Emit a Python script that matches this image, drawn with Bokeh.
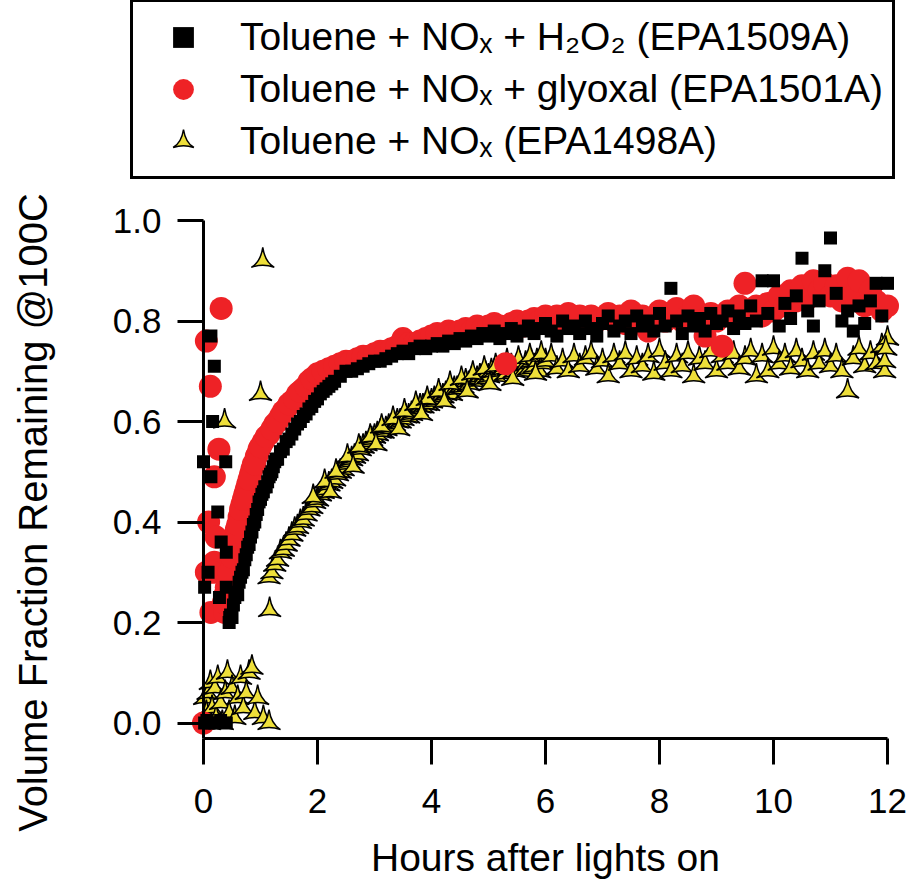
from math import pi
from bokeh.plotting import figure
from bokeh.models import Range1d, FixedTicker, PrintfTickFormatter, Legend, LegendItem, Label
from bokeh.embed import file_html
from bokeh.resources import INLINE

# ---------------- data ----------------
# Toluene + NOx + H2O2 (EPA1509A)  -- black squares
h2o2_x = [0.00, 0.02, 0.08, 0.13, 0.19, 0.16, 0.39, 0.13, 0.25, 0.31, 0.40, 0.28, 0.40, 0.46,
          0.02, 0.10, 0.20, 0.30, 0.40, 0.06,
          0.45, 0.475, 0.525, 0.55, 0.575, 0.625, 0.65, 0.675, 0.725, 0.75, 0.775, 0.825, 0.85,
          0.875, 0.925, 0.95, 0.975, 1.025, 1.05, 1.075, 1.125, 1.15, 1.175, 1.225, 1.25, 1.275,
          1.35, 1.45, 1.55, 1.65, 1.75, 1.85, 1.95, 2.05, 2.15, 2.25,
          0.5, 0.6, 0.7, 0.8, 0.9, 1.0, 1.1, 1.2, 1.3, 1.4, 1.5, 1.6, 1.7, 1.8, 1.9,
          2.0, 2.1, 2.2, 2.3, 2.4, 2.5, 2.6, 2.7, 2.8, 2.9, 3.0, 3.1, 3.2, 3.3, 3.4,
          3.5, 3.6, 3.7, 3.8, 3.9, 4.0, 4.1, 4.2, 4.3, 4.4, 4.5, 4.6, 4.7, 4.8, 4.9,
          5.0, 5.1, 5.2, 5.3, 5.4, 5.5, 5.6, 5.7, 5.8, 5.9, 6.0, 6.1, 6.2, 6.3, 6.4,
          6.5, 6.6, 6.7, 6.8, 6.9, 7.0, 7.1, 7.2, 7.3, 7.4, 7.5, 7.6, 7.7, 7.8, 7.9,
          8.0, 8.1, 8.2, 8.3, 8.4, 8.5, 8.6, 8.7, 8.8, 8.9, 9.0, 9.1, 9.2, 9.3, 9.4,
          9.5, 9.6, 9.7, 9.8, 9.9, 10.0, 10.1, 10.2, 10.3, 10.4, 10.5, 10.6, 10.7, 10.8, 10.9,
          11.0, 11.1, 11.2, 11.3, 11.4, 11.5, 11.6, 11.7, 11.8, 11.9, 12.0]
h2o2_y = [0.52, 0.27, 0.30, 0.77, 0.71, 0.60, 0.52, 0.49, 0.42, 0.36, 0.34, 0.25, 0.27, 0.21,
          0.00, 0.00, 0.00, 0.005, 0.00, 0.005,
          0.20, 0.215, 0.235, 0.25, 0.26, 0.28, 0.29, 0.30, 0.325, 0.335, 0.35, 0.37, 0.38,
          0.395, 0.415, 0.425, 0.44, 0.455, 0.46, 0.47, 0.48, 0.49, 0.495, 0.51, 0.52, 0.525,
          0.54, 0.56, 0.575, 0.595, 0.61, 0.625, 0.64, 0.655, 0.665, 0.675,
          0.21, 0.255, 0.305, 0.355, 0.40, 0.445, 0.47, 0.50, 0.525, 0.545, 0.565, 0.585, 0.60, 0.615, 0.63,
          0.645, 0.66, 0.67, 0.68, 0.69, 0.70, 0.70, 0.705, 0.71, 0.715, 0.72, 0.72, 0.725, 0.73, 0.735,
          0.74, 0.735, 0.745, 0.75, 0.745, 0.75, 0.755, 0.75, 0.76, 0.755, 0.765, 0.76, 0.77, 0.765, 0.775,
          0.77, 0.78, 0.765, 0.775, 0.785, 0.77, 0.78, 0.79, 0.775, 0.785, 0.795, 0.78, 0.77, 0.80, 0.785,
          0.79, 0.775, 0.80, 0.785, 0.77, 0.795, 0.81, 0.78, 0.79, 0.80, 0.775, 0.81, 0.79, 0.80, 0.78,
          0.815, 0.79, 0.865, 0.80, 0.775, 0.81, 0.79, 0.805, 0.78, 0.815, 0.795, 0.80, 0.82, 0.785, 0.81,
          0.795, 0.83, 0.80, 0.88, 0.815, 0.88, 0.79, 0.835, 0.805, 0.85, 0.925, 0.82, 0.79, 0.84, 0.90,
          0.965, 0.855, 0.80, 0.82, 0.78, 0.83, 0.795, 0.84, 0.875, 0.81, 0.875]

# Toluene + NOx + glyoxal (EPA1501A)  -- red circles
glyoxal_x = [0.00, 0.05, 0.12, 0.31, 0.27, 0.19, 0.09, 0.22, 0.19, 0.13, 0.05, 0.37, 0.16,
             0.375, 0.425, 0.475, 0.525, 0.575, 0.625, 0.675, 0.725, 0.75, 0.775, 0.825, 0.85,
             0.875, 0.925, 0.95, 0.975, 1.05, 1.15, 1.25, 1.35, 1.45, 1.55, 1.65, 1.75, 1.85,
             0.35, 0.4, 0.45, 0.5, 0.55, 0.6, 0.65, 0.7, 0.8, 0.9, 1.0, 1.1, 1.2, 1.3, 1.4,
             1.5, 1.6, 1.7, 1.8, 1.9, 2.0, 2.1, 2.2, 2.3, 2.4, 2.5, 2.6, 2.7, 2.8, 2.9,
             3.0, 3.1, 3.2, 3.3, 3.4, 3.5, 3.6, 3.7, 3.8, 3.9, 4.0, 4.1, 4.2, 4.3, 4.4,
             4.5, 4.6, 4.7, 4.8, 4.9, 5.0, 5.1, 5.2, 5.3, 5.4, 5.5, 5.6, 5.7, 5.8, 5.9,
             6.0, 6.1, 6.2, 6.3, 6.4, 6.5, 6.6, 6.7, 6.8, 6.9, 7.0, 7.1, 7.2, 7.3, 7.4,
             7.5, 7.6, 7.7, 7.8, 7.9, 8.0, 8.1, 8.2, 8.3, 8.4, 8.5, 8.6, 8.7, 8.8, 8.9,
             9.0, 9.1, 9.2, 9.3, 9.4, 9.5, 9.6, 9.7, 9.8, 9.9, 10.0, 10.1, 10.2, 10.3, 10.4,
             10.5, 10.6, 10.7, 10.8, 10.9, 11.0, 11.1, 11.2, 11.3, 11.4, 11.5, 11.6, 11.7, 11.8,
             11.9, 12.0]
glyoxal_y = [0.00, 0.76, 0.67, 0.825, 0.545, 0.49, 0.40, 0.37, 0.32, 0.22, 0.30, 0.22, 0.30,
             0.255, 0.285, 0.315, 0.345, 0.385, 0.41, 0.435, 0.455, 0.465, 0.475, 0.495, 0.505,
             0.515, 0.53, 0.535, 0.545, 0.56, 0.575, 0.595, 0.61, 0.625, 0.64, 0.655, 0.665, 0.68,
             0.24, 0.27, 0.30, 0.33, 0.365, 0.395, 0.425, 0.445, 0.485, 0.515, 0.55, 0.57, 0.585, 0.60, 0.62,
             0.635, 0.645, 0.66, 0.67, 0.685, 0.695, 0.70, 0.705, 0.71, 0.715, 0.72, 0.72, 0.725, 0.73, 0.73,
             0.735, 0.74, 0.74, 0.745, 0.75, 0.765, 0.755, 0.755, 0.76, 0.765, 0.77, 0.775, 0.77, 0.78, 0.775,
             0.78, 0.785, 0.78, 0.79, 0.785, 0.79, 0.795, 0.79, 0.715, 0.795, 0.80, 0.79, 0.80, 0.805, 0.80,
             0.81, 0.80, 0.81, 0.80, 0.815, 0.80, 0.81, 0.795, 0.81, 0.80, 0.805, 0.815, 0.80, 0.81, 0.795,
             0.82, 0.80, 0.81, 0.78, 0.80, 0.82, 0.80, 0.815, 0.825, 0.80, 0.81, 0.83, 0.80, 0.77, 0.815,
             0.80, 0.75, 0.82, 0.81, 0.83, 0.875, 0.82, 0.83, 0.81, 0.835, 0.82, 0.85, 0.83, 0.86, 0.84,
             0.87, 0.845, 0.88, 0.86, 0.875, 0.85, 0.87, 0.84, 0.885, 0.85, 0.88, 0.83, 0.86, 0.84,
             0.82, 0.83]

# Toluene + NOx (EPA1498A)  -- yellow triangles
nox_x = [0.02, 0.05, 0.08, 0.10, 0.12, 0.15, 0.20, 0.22, 0.25, 0.30, 0.33, 0.38, 0.42, 0.45,
         0.50, 0.55, 0.60, 0.65, 0.70, 0.75, 0.80, 0.85, 0.90, 0.95, 1.05, 1.15,
         1.04, 1.00, 0.37, 1.16,
         1.15, 1.20, 1.25, 1.30, 1.35, 1.40, 1.45, 1.50, 1.55, 1.60, 1.65, 1.70, 1.75, 1.80, 1.85,
         1.90, 1.95, 2.00, 2.05, 2.10, 2.15, 2.20, 2.25, 2.30, 2.35, 2.40, 2.45, 2.50, 2.55, 2.60,
         2.65, 2.70, 2.75, 2.80, 2.85, 2.90, 2.95, 3.00, 3.05, 3.10, 3.15, 3.20, 3.25, 3.30, 3.35,
         3.40, 3.45, 3.50, 3.55, 3.60, 3.65, 3.70, 3.75, 3.80, 3.85, 3.90, 3.95, 4.00, 4.05, 4.10,
         4.15, 4.20, 4.25, 4.30, 4.35, 4.40, 4.45, 4.50, 4.55, 4.60, 4.65, 4.70, 4.75, 4.80, 4.85,
         4.90, 4.95, 5.00, 5.05, 5.10, 5.15, 5.20, 5.25, 5.30, 5.35, 5.40, 5.45, 5.50, 5.55, 5.60,
         5.65, 5.70, 5.75, 5.80, 5.85, 5.90, 5.95, 6.00,
         1.925, 2.125, 2.325, 2.525, 2.725, 2.925, 3.125, 3.325, 3.525, 3.725, 3.925, 4.125, 4.325,
         4.525, 4.725, 4.925, 5.125, 5.325, 5.525, 5.725, 5.925, 2.225, 2.625, 3.025, 3.425, 3.825,
         4.225, 4.625, 5.025, 5.425, 5.825,
         6.1, 6.2, 6.3, 6.4, 6.5, 6.6, 6.7, 6.8, 6.9, 7.0, 7.1, 7.2, 7.3, 7.4, 7.5,
         7.6, 7.7, 7.8, 7.9, 8.0, 8.1, 8.2, 8.3, 8.4, 8.5, 8.6, 8.7, 8.8, 8.9, 9.0,
         9.1, 9.2, 9.3, 9.4, 9.5, 9.6, 9.7, 9.8, 9.9, 10.0, 10.1, 10.2, 10.3, 10.4, 10.5,
         10.6, 10.7, 10.8, 10.9, 11.0, 11.1, 11.2, 11.3, 11.4, 11.5, 11.6, 11.7, 11.8, 11.9, 12.0,
         11.95, 11.95, 11.97]
nox_y = [0.05, 0.02, 0.06, 0.00, 0.08, 0.03, 0.07, 0.01, 0.09, 0.04, 0.00, 0.06, 0.10, 0.02,
         0.07, 0.01, 0.05, 0.09, 0.03, 0.06, 0.10, 0.11, 0.02, 0.05, 0.01, 0.00,
         0.92, 0.655, 0.60, 0.225,
         0.29, 0.30, 0.315, 0.325, 0.34, 0.345, 0.355, 0.365, 0.375, 0.385, 0.39, 0.40, 0.405, 0.415, 0.425,
         0.43, 0.44, 0.445, 0.455, 0.46, 0.465, 0.475, 0.48, 0.485, 0.495, 0.50, 0.505, 0.515, 0.52, 0.525,
         0.53, 0.535, 0.545, 0.55, 0.555, 0.56, 0.565, 0.57, 0.575, 0.58, 0.58, 0.585, 0.59, 0.59, 0.595,
         0.60, 0.60, 0.605, 0.61, 0.61, 0.615, 0.62, 0.625, 0.63, 0.63, 0.635, 0.635, 0.64, 0.645, 0.645,
         0.65, 0.65, 0.655, 0.66, 0.655, 0.665, 0.665, 0.67, 0.67, 0.68, 0.675, 0.685, 0.68, 0.685, 0.69,
         0.685, 0.695, 0.69, 0.70, 0.70, 0.69, 0.70, 0.705, 0.695, 0.705, 0.71, 0.70, 0.71, 0.715, 0.70,
         0.715, 0.705, 0.72, 0.71, 0.72, 0.70, 0.715, 0.72,
         0.45, 0.48, 0.50, 0.53, 0.55, 0.57, 0.59, 0.605, 0.62, 0.635, 0.645, 0.66, 0.675,
         0.685, 0.695, 0.705, 0.71, 0.72, 0.725, 0.73, 0.735, 0.46, 0.51, 0.555, 0.585, 0.615,
         0.64, 0.66, 0.675, 0.685, 0.695,
         0.73, 0.705, 0.72, 0.70, 0.73, 0.71, 0.725, 0.735, 0.705, 0.72, 0.69, 0.73, 0.715, 0.735, 0.70,
         0.725, 0.71, 0.73, 0.695, 0.74, 0.715, 0.70, 0.73, 0.71, 0.735, 0.69, 0.725, 0.715, 0.74, 0.70,
         0.73, 0.715, 0.735, 0.705, 0.725, 0.74, 0.69, 0.73, 0.70, 0.745, 0.715, 0.73, 0.705, 0.74, 0.72,
         0.70, 0.735, 0.715, 0.74, 0.71, 0.73, 0.70, 0.66, 0.725, 0.745, 0.71, 0.735, 0.715, 0.75, 0.765,
         0.70, 0.72, 0.745]

x_ticks = [0, 2, 4, 6, 8, 10, 12]
y_ticks = [0.0, 0.2, 0.4, 0.6, 0.8, 1.0]

legend_labels = ["Toluene + NO\u2093 + H\u2082O\u2082 (EPA1509A)",
                 "Toluene + NO\u2093 + glyoxal (EPA1501A)",
                 "Toluene + NO\u2093 (EPA1498A)"]
x_title = "Hours after lights on"
y_title = "Volume Fraction Remaining @100C"

FONT = "Liberation Sans"

# ---------------- layout geometry (pixels) ----------------
W, H = 912, 879
PX_X0 = 203          # screen x of hour 0
PX_PER_H = 57.0      # pixels per hour
PX_Y0 = 722.5        # screen y of fraction 0
PX_PER_Y = 502.5     # pixels per unit fraction
AXIS_PX_Y = 738      # screen y of the (offset) x axis line

x_lo = -PX_X0 / PX_PER_H
x_hi = (W - PX_X0) / PX_PER_H
y_lo = -(H - PX_Y0) / PX_PER_Y
y_hi = PX_Y0 / PX_PER_Y
x_axis_at = -(AXIS_PX_Y - PX_Y0) / PX_PER_Y

p = figure(width=W, height=H, output_backend="svg", toolbar_location=None,
           x_range=Range1d(x_lo, x_hi), y_range=Range1d(y_lo, y_hi),
           min_border_left=0, min_border_right=0, min_border_top=0, min_border_bottom=0)
p.outline_line_color = None
p.grid.visible = False
p.background_fill_color = "white"
p.border_fill_color = "white"

r_nox = p.scatter(nox_x, nox_y, marker="triangle_pin", size=23, fill_color="#EEDF3A",
                  line_color="black", line_width=1.5)
r_gly = p.scatter(glyoxal_x, glyoxal_y, marker="circle", size=23, fill_color="#EE2226",
                  line_color=None)
r_h2o2 = p.scatter(h2o2_x, h2o2_y, marker="square", size=13, fill_color="black",
                   line_color=None)

for ax in (p.xaxis[0], p.yaxis[0]):
    ax.axis_line_width = 3
    ax.axis_line_color = "black"
    ax.major_tick_line_width = 3
    ax.major_tick_line_color = "black"
    ax.major_tick_out = 26
    ax.major_tick_in = 0
    ax.minor_tick_line_color = None
    ax.major_label_text_font = FONT
    ax.major_label_text_font_size = "35px"
    ax.major_label_text_color = "black"
    ax.axis_label_text_font = FONT
    ax.axis_label_text_font_style = "normal"
    ax.axis_label_text_color = "black"

xa = p.xaxis[0]
ya = p.yaxis[0]
xa.ticker = FixedTicker(ticks=x_ticks)
ya.ticker = FixedTicker(ticks=y_ticks)
ya.formatter = PrintfTickFormatter(format="%.1f")
xa.bounds = (0, 12)
ya.bounds = (x_axis_at, 1.0)
xa.fixed_location = x_axis_at
ya.fixed_location = 0
xa.axis_label = x_title
xa.axis_label_text_font_size = "39px"
xa.major_label_standoff = 24
ya.major_label_standoff = 16
xa.axis_label_standoff = 20

ylab = Label(x=32, y=H - 512, x_units="screen", y_units="screen", text=y_title,
             angle=pi / 2, text_align="center", text_baseline="middle",
             text_font=FONT, text_font_size="40px", text_color="black")
p.add_layout(ylab)

legend = Legend(items=[LegendItem(label=legend_labels[0], renderers=[r_h2o2]),
                       LegendItem(label=legend_labels[1], renderers=[r_gly]),
                       LegendItem(label=legend_labels[2], renderers=[r_nox])],
                location=(130, H - 179))
legend.border_line_color = "black"
legend.border_line_alpha = 1.0
legend.border_line_width = 3
legend.background_fill_color = "white"
legend.background_fill_alpha = 1.0
legend.label_text_font = FONT
legend.label_text_font_size = "39px"
legend.label_text_color = "black"
legend.glyph_width = 82
legend.glyph_height = 52
legend.label_height = 52
legend.label_standoff = 16
legend.spacing = 0
legend.padding = 9
legend.margin = 0
p.add_layout(legend, "center")

open("out.html", "w").write(file_html(p, INLINE))
